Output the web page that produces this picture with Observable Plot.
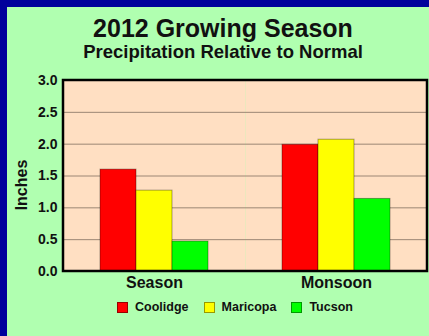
<!DOCTYPE html>
<html>
<head>
<meta charset="utf-8">
<script src="https://cdn.jsdelivr.net/npm/d3@7"></script>
<script src="https://cdn.jsdelivr.net/npm/@observablehq/plot@0.6"></script>
<style>
  html, body { margin: 0; padding: 0; }
  body {
    width: 429px; height: 336px; overflow: hidden;
    background: #00009c;
    font-family: "Liberation Sans", Arial, sans-serif;
    position: relative;
  }
  #panel {
    position: absolute; left: 7px; top: 7px; width: 422px; height: 329px;
    background: #b0ffb0; color: #111;
  }
  #title {
    position: absolute; left: 0; width: 432px; top: 7px;
    text-align: center; font-weight: bold; font-size: 25px; line-height: 28px;
  }
  #subtitle {
    position: absolute; left: 0; width: 432px; top: 34px;
    text-align: center; font-weight: bold; font-size: 18.5px; line-height: 21px;
  }
  #chart { position: absolute; left: 0; top: 59px; }
  #ylabel {
    position: absolute; left: 15px; top: 178px; width: 0; height: 0;
  }
  #ylabel span {
    position: absolute; transform: translate(-50%, -50%) rotate(-90deg);
    font-weight: bold; font-size: 16px; white-space: nowrap;
  }
  #legend {
    position: absolute; left: 0; width: 456px; top: 293px;
    display: flex; justify-content: center; gap: 15px;
    font-weight: bold; font-size: 12.5px;
  }
  #legend .item { display: flex; align-items: center; gap: 7px; }
  #legend .sw {
    width: 9px; height: 9px; border: 1px solid rgba(0,0,0,0.4);
  }
  #chart svg text { fill: #111; }
  #chart [aria-label="y-axis tick label"] text,
  #chart g[aria-label="y-axis"] text { font-size: 14px; font-weight: bold; }
  #chart [aria-label="fx-axis tick label"] text,
  #chart g[aria-label="fx-axis"] text { font-size: 16px; font-weight: bold; }
</style>
</head>
<body>
<div id="panel">
  <div id="title">2012 Growing Season</div>
  <div id="subtitle">Precipitation Relative to Normal</div>
  <div id="chart"></div>
  <div id="ylabel"><span>Inches</span></div>
  <div id="legend"></div>
</div>
<script>
// Precipitation relative to normal (inches), 2012 growing season
const periods = ["Season", "Monsoon"];
const stations = ["Coolidge", "Maricopa", "Tucson"];
const stationColors = ["#ff0000", "#ffff00", "#00ff00"];
const seasonValues = [1.60, 1.27, 0.47];
const monsoonValues = [1.99, 2.07, 1.14];
const yTicks = [0, 0.5, 1.0, 1.5, 2.0, 2.5, 3.0];
const gridTicks = [0.5, 1.0, 1.5, 2.0, 2.5];

const valuesByPeriod = {Season: seasonValues, Monsoon: monsoonValues};
const rows = periods.flatMap(p =>
  stations.map((s, i) => ({period: p, station: s, value: valuesByPeriod[p][i]}))
);

const chart = Plot.plot({
  width: 422,
  height: 230,
  marginLeft: 56,
  marginRight: 2,
  marginTop: 14,
  marginBottom: 25,
  style: {background: "transparent", fontFamily: "'Liberation Sans', Arial, sans-serif"},
  fx: {domain: periods, padding: 0, axis: "bottom", label: null, tickSize: 0, tickPadding: 5},
  x: {domain: stations, axis: null, paddingInner: 0, paddingOuter: 1},
  y: {domain: [0, 3], ticks: yTicks, tickFormat: d3.format(".1f"), tickSize: 0, tickPadding: 6, label: null},
  color: {domain: stations, range: stationColors},
  marks: [
    Plot.frame({fill: "#ffdfc2", stroke: null}),
    Plot.ruleY(gridTicks, {stroke: "#9c8674", strokeWidth: 1}),
    Plot.barY(rows, {
      fx: "period", x: "station", y: "value", fill: "station",
      stroke: "#000", strokeOpacity: 0.35, strokeWidth: 1
    })
  ]
});
document.getElementById("chart").appendChild(chart);

// Outer border around the whole plotting area, from the scales' ranges
const svg = d3.select(chart.tagName.toLowerCase() === "svg" ? chart : chart.querySelector("svg"));
const fxr = chart.scale("fx").range;
const yr = chart.scale("y").range;
svg.append("rect")
  .attr("x", Math.min(...fxr))
  .attr("y", Math.min(...yr))
  .attr("width", Math.abs(fxr[1] - fxr[0]))
  .attr("height", Math.abs(yr[1] - yr[0]))
  .attr("fill", "none")
  .attr("stroke", "#000")
  .attr("stroke-width", 2.5);

// Legend
const legend = d3.select("#legend");
stations.forEach((s, i) => {
  const item = legend.append("div").attr("class", "item");
  item.append("div").attr("class", "sw").style("background", stationColors[i]);
  item.append("span").text(s);
});
</script>
</body>
</html>
